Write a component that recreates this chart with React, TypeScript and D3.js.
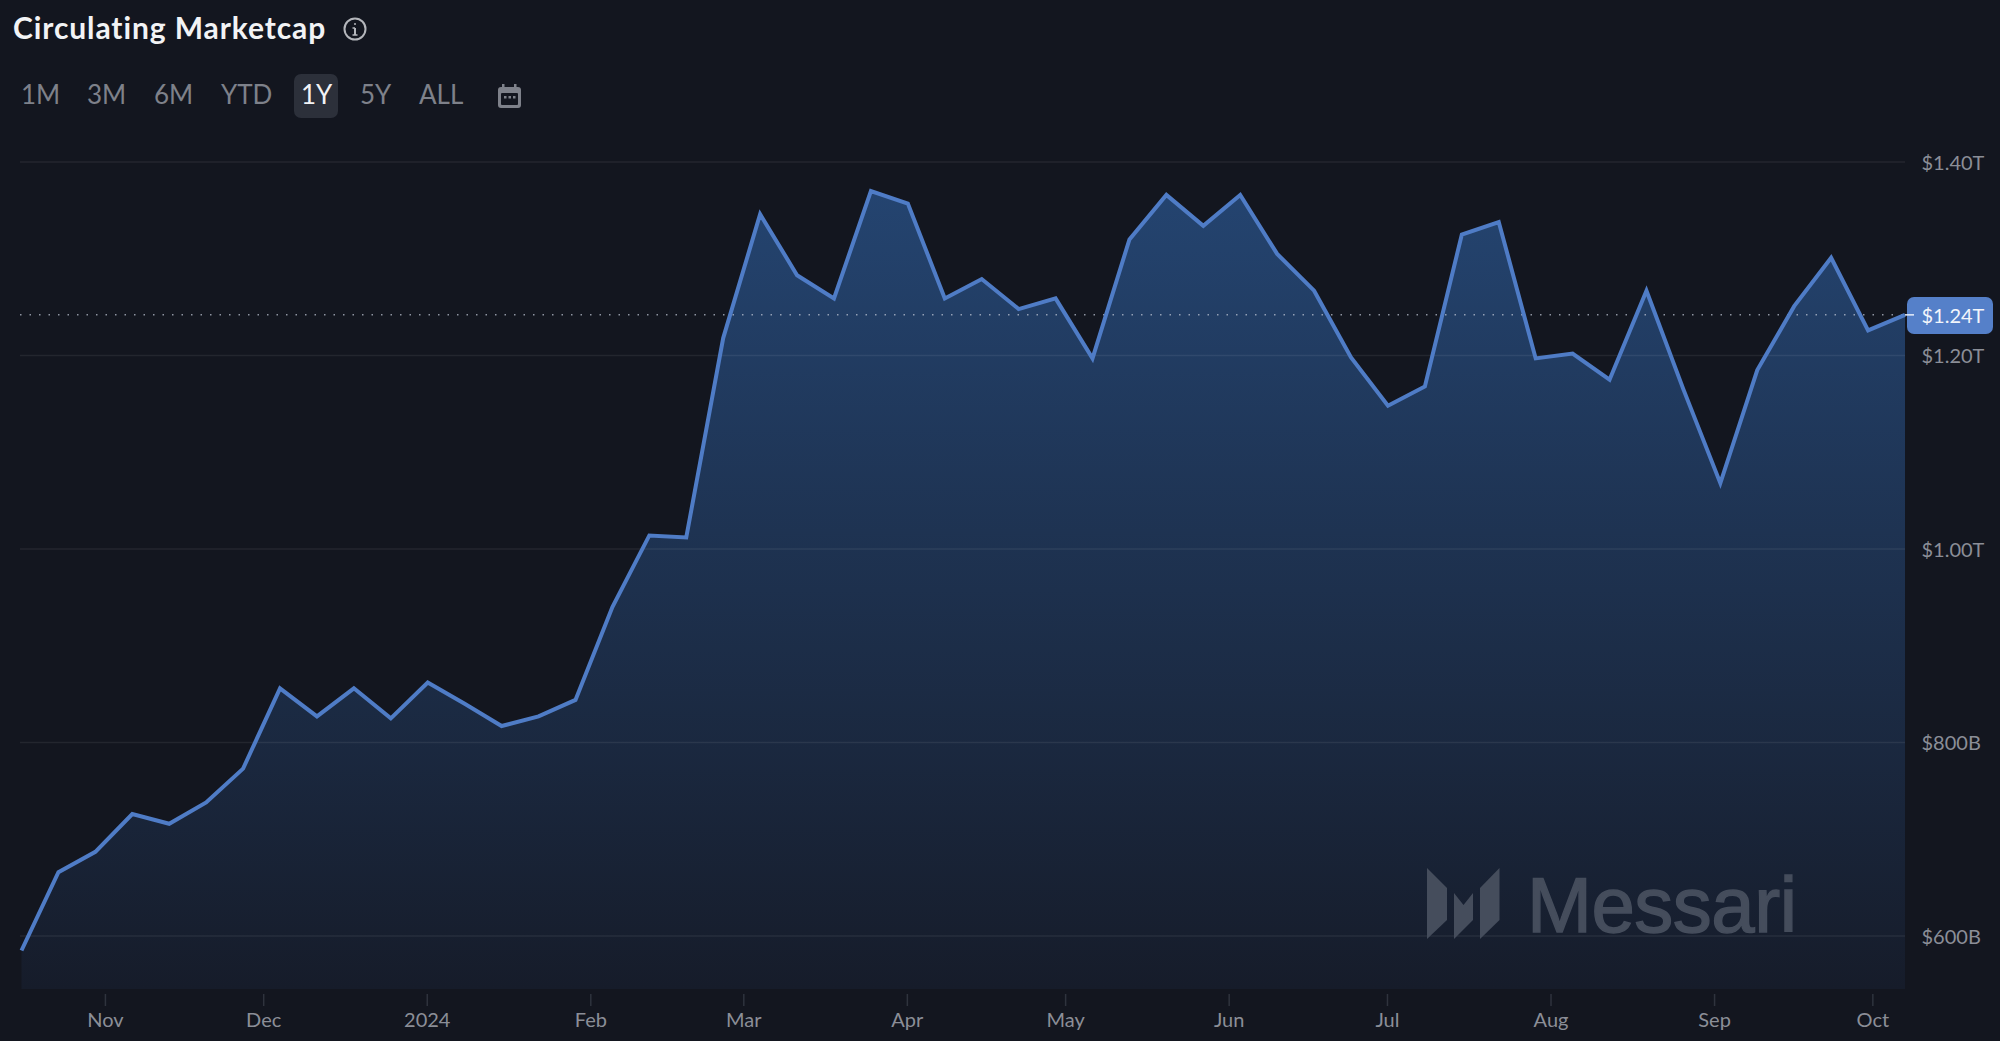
import * as d3 from "d3";
import { useEffect, useRef } from "react";

const WIDTH = 2000;
const HEIGHT = 1041;
const PLOT = { left: 21.5, right: 1905, top: 162, bottom: 989 };

const START_DATE = new Date(2023, 9, 16);
const MS_PER_WEEK = 7 * 24 * 3600 * 1000;

// weekly circulating marketcap, in $B
const marketcap = [
  585, 666, 687, 726, 716, 738, 773, 856, 827, 856, 825, 862, 840, 817, 827, 844,
  940, 1014, 1012, 1218, 1346, 1283, 1259, 1370, 1357, 1259, 1279, 1248, 1259, 1197,
  1320, 1366, 1334, 1366, 1305, 1267, 1198, 1148, 1168, 1325, 1338, 1197, 1202, 1175,
  1267, 1165, 1068, 1185, 1251, 1301, 1226, 1242,
];
const dates = marketcap.map((_, i) => new Date(START_DATE.getTime() + i * MS_PER_WEEK));

const yTicks = [600, 800, 1000, 1200, 1400];
const ranges = [
  { label: "1M", x: 21 },
  { label: "3M", x: 87 },
  { label: "6M", x: 154 },
  { label: "YTD", x: 221 },
  { label: "1Y", x: 301 },
  { label: "5Y", x: 360 },
  { label: "ALL", x: 419 },
];

const FONT = "Lato, sans-serif";
const BG = "#13161f";
const MUTED = "#7e818a";

const formatMoney = (v: number) =>
  v >= 1000 ? `$${(v / 1000).toFixed(2)}T` : `$${v}B`;

const formatMonth = (d: Date) =>
  d.getMonth() === 0 ? d3.timeFormat("%Y")(d) : d3.timeFormat("%b")(d);

export default function App() {
  const axesRef = useRef<SVGGElement>(null);

  const xScale = d3
    .scaleTime()
    .domain([dates[0], dates[dates.length - 1]])
    .range([PLOT.left, PLOT.right]);

  // 200B = 193.5px
  const yScale = d3.scaleLinear().domain([600, 1400]).range([936, 162]);

  const points = marketcap.map((v, i) => ({ date: dates[i], v }));
  const areaPath = d3
    .area<{ date: Date; v: number }>()
    .x((d) => xScale(d.date))
    .y0(PLOT.bottom)
    .y1((d) => yScale(d.v))(points);
  const linePath = d3
    .line<{ date: Date; v: number }>()
    .x((d) => xScale(d.date))
    .y((d) => yScale(d.v))(points);

  const last = marketcap[marketcap.length - 1];
  const lastY = yScale(last);

  useEffect(() => {
    const svg = d3.select(axesRef.current);
    svg.selectAll("*").remove();

    const xAxis = d3
      .axisBottom(xScale)
      .ticks(d3.timeMonth.every(1))
      .tickSize(12)
      .tickPadding(7)
      .tickFormat((d) => formatMonth(d as Date));
    const xg = svg.append("g").attr("transform", `translate(-1,${PLOT.bottom + 5})`).call(xAxis);
    xg.select(".domain").remove();
    xg.selectAll("line").attr("stroke", "#2f333d").attr("stroke-width", 1.5);
    xg.selectAll("text")
      .attr("fill", "#8b8e97")
      .attr("font-family", FONT)
      .attr("font-size", 20);

    const yAxis = d3
      .axisRight(yScale)
      .tickValues(yTicks)
      .tickSize(0)
      .tickPadding(0)
      .tickFormat((d) => formatMoney(d as number));
    const yg = svg.append("g").attr("transform", "translate(1921.5,1)").call(yAxis);
    yg.select(".domain").remove();
    yg.selectAll("text")
      .attr("fill", "#8b8e97")
      .attr("font-family", FONT)
      .attr("font-size", 20);
  }, []);

  return (
    <svg
      width={WIDTH}
      height={HEIGHT}
      style={{ position: "absolute", left: 0, top: 0, background: BG }}
    >
      <defs>
        <linearGradient id="areaFill" gradientUnits="userSpaceOnUse" x1="0" x2="0" y1="190" y2={PLOT.bottom}>
          <stop offset="0" stopColor="#244470" />
          <stop offset="1" stopColor="#161c2a" />
        </linearGradient>
      </defs>

      <text x={13} y={39} fill="#f2f3f5" fontFamily={FONT} fontWeight={700} fontSize={30} letterSpacing={0.9}>
        Circulating Marketcap
      </text>
      <g transform="translate(355,29)" fill="none" stroke="#b4b6bb" strokeWidth={2}>
        <circle r={10.5} />
        <line x1={0} x2={0} y1={-1} y2={6} />
        <line x1={-2.5} x2={0} y1={-1} y2={-1} strokeWidth={1.5} />
        <line x1={-2.5} x2={2.5} y1={6} y2={6} strokeWidth={1.5} />
        <circle cy={-5} r={1} fill="#b4b6bb" stroke="none" />
      </g>

      <rect x={294} y={74} width={44} height={44} rx={7} fill="#2c303a" />
      {ranges.map((r) => (
        <text
          key={r.label}
          x={r.x}
          y={104}
          fill={r.label === "1Y" ? "#f2f3f5" : MUTED}
          fontFamily={FONT}
          fontSize={26}
        >
          {r.label}
        </text>
      ))}
      <g>
        <rect x={498} y={87} width={23} height={21} rx={3} fill={MUTED} />
        <rect x={501} y={93} width={17} height={12} rx={1} fill={BG} />
        <rect x={502} y={84} width={2.5} height={5} fill={MUTED} />
        <rect x={514} y={84} width={2.5} height={5} fill={MUTED} />
        <rect x={504} y={96} width={2.5} height={2.5} fill={MUTED} />
        <rect x={508.5} y={96} width={2.5} height={2.5} fill={MUTED} />
        <rect x={513} y={96} width={2.5} height={2.5} fill={MUTED} />
      </g>

      <path d={areaPath ?? ""} fill="url(#areaFill)" />

      {yTicks.map((t) => (
        <line
          key={t}
          x1={20}
          x2={1905}
          y1={yScale(t)}
          y2={yScale(t)}
          stroke="#ffffff"
          strokeOpacity={0.07}
          strokeWidth={1.5}
        />
      ))}

      <g fill="#454d5c" stroke="#454d5c">
        <polygon strokeWidth={0} points="1427,868 1447,888 1447,920 1427,939" />
        <polygon strokeWidth={0} points="1454,893 1463.5,905 1473,893 1473,920 1454,939" />
        <polygon strokeWidth={0} points="1499.5,868 1499.5,920 1480,939 1480,888" />
        <text x={1527} y={932} fontFamily="Liberation Sans, sans-serif" fontSize={78} letterSpacing={-0.5} strokeWidth={1.4}>
          Messari
        </text>
      </g>

      <line
        x1={20}
        x2={1905}
        y1={lastY}
        y2={lastY}
        stroke="#c3cbd9"
        strokeOpacity={0.7}
        strokeWidth={1.5}
        strokeDasharray="1.5 8"
      />

      <path d={linePath ?? ""} fill="none" stroke="#4f7cc6" strokeWidth={4} strokeLinejoin="miter" />

      <g ref={axesRef} />

      <rect x={1907} y={297} width={86} height={37} rx={7} fill="#5580c9" />
      <line x1={1905} x2={1914} y1={lastY} y2={lastY} stroke="#e8eefa" strokeWidth={1.5} />
      <text x={1921.5} y={lastY + 1} dy="0.35em" fill="#f2f5fb" fontFamily={FONT} fontSize={20}>
        {formatMoney(last)}
      </text>
    </svg>
  );
}
